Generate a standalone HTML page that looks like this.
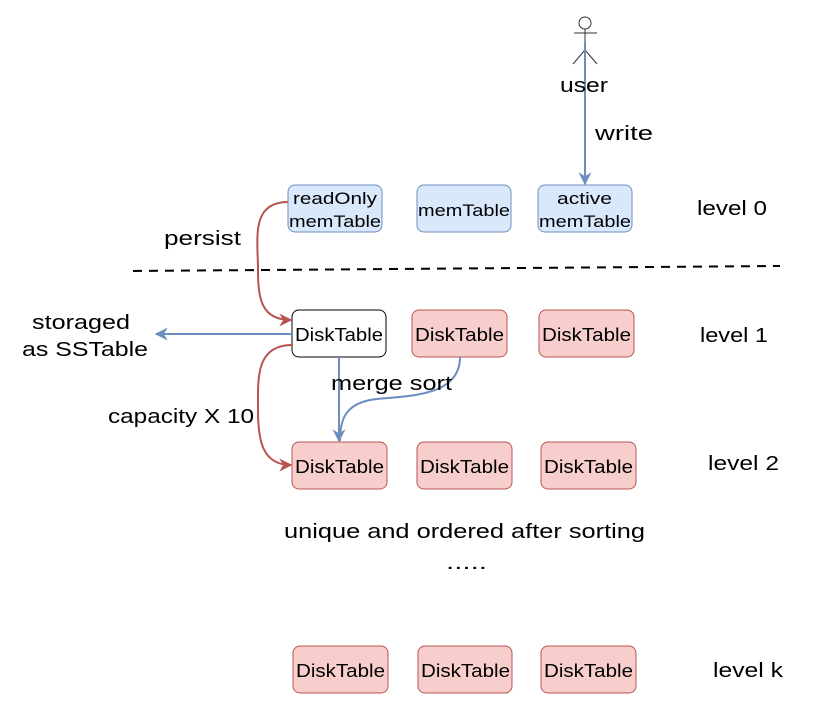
<!DOCTYPE html>
<html><head><meta charset="utf-8"><style>
html,body{margin:0;padding:0;background:#fff;}
svg{display:block;}
text{font-family:"Liberation Sans","DejaVu Sans",sans-serif;fill:#000;}
</style></head><body>
<svg width="830" height="728" viewBox="0 0 830 728" xmlns="http://www.w3.org/2000/svg">
<defs>
<marker id="ab" viewBox="0 0 10 10" refX="9" refY="5" markerWidth="13" markerHeight="13" orient="auto" markerUnits="userSpaceOnUse"><path d="M0,0 L10,5 L0,10 L3,5 z" fill="#6c8ebf"/></marker>
<marker id="ar" viewBox="0 0 10 10" refX="9" refY="5" markerWidth="13" markerHeight="13" orient="auto" markerUnits="userSpaceOnUse"><path d="M0,0 L10,5 L0,10 L3,5 z" fill="#b85450"/></marker>
</defs>
<!-- user -->
<circle cx="585" cy="23" r="6" fill="#fff" stroke="#333" stroke-width="1"/>
<line x1="574" y1="33" x2="597" y2="33" stroke="#333"/>
<line x1="585" y1="29" x2="585" y2="50" stroke="#333"/>
<line x1="585" y1="50" x2="573" y2="64" stroke="#333"/>
<line x1="585" y1="50" x2="597" y2="64" stroke="#333"/>
<line x1="585" y1="42" x2="585" y2="184" stroke="#6c8ebf" stroke-width="2" marker-end="url(#ab)"/>
<text x="560" y="92" font-size="20" textLength="48" lengthAdjust="spacingAndGlyphs">user</text>
<text x="595" y="140" font-size="20" textLength="58" lengthAdjust="spacingAndGlyphs">write</text>
<!-- level 0 -->
<g stroke="#6c8ebf" fill="#dae8fc">
<rect x="288" y="185" width="94" height="47" rx="7"/>
<rect x="417" y="185" width="94" height="47" rx="7"/>
<rect x="538" y="185" width="94" height="47" rx="7"/>
</g>
<g font-size="17" lengthAdjust="spacingAndGlyphs">
<text x="293" y="204" textLength="84" lengthAdjust="spacingAndGlyphs">readOnly</text>
<text x="289" y="227" textLength="92" lengthAdjust="spacingAndGlyphs">memTable</text>
<text x="418" y="216" textLength="92" lengthAdjust="spacingAndGlyphs">memTable</text>
<text x="557" y="204" textLength="55" lengthAdjust="spacingAndGlyphs">active</text>
<text x="539" y="227" textLength="92" lengthAdjust="spacingAndGlyphs">memTable</text>
</g>
<text x="697" y="215" font-size="20" textLength="70" lengthAdjust="spacingAndGlyphs">level 0</text>
<text x="164" y="245" font-size="20" textLength="77" lengthAdjust="spacingAndGlyphs">persist</text>
<line x1="133" y1="271" x2="780" y2="266" stroke="#000" stroke-width="2" stroke-dasharray="9,7"/>
<!-- boxes -->
<rect x="292" y="310" width="94" height="47" rx="7" fill="#fff" stroke="#000"/>
<g stroke="#b85450" fill="#f8cecc">
<rect x="412" y="310" width="95" height="47" rx="7"/>
<rect x="539" y="310" width="95" height="47" rx="7"/>
<rect x="292" y="442" width="95" height="47" rx="7"/>
<rect x="417" y="442" width="95" height="47" rx="7"/>
<rect x="541" y="442" width="95" height="47" rx="7"/>
<rect x="293" y="646" width="95" height="47" rx="7"/>
<rect x="418" y="646" width="94" height="47" rx="7"/>
<rect x="541" y="646" width="95" height="47" rx="7"/>
</g>
<g font-size="18">
<text x="295" y="341" textLength="88" lengthAdjust="spacingAndGlyphs">DiskTable</text>
<text x="415" y="341" textLength="89" lengthAdjust="spacingAndGlyphs">DiskTable</text>
<text x="542" y="341" textLength="89" lengthAdjust="spacingAndGlyphs">DiskTable</text>
<text x="295" y="473" textLength="89" lengthAdjust="spacingAndGlyphs">DiskTable</text>
<text x="420" y="473" textLength="89" lengthAdjust="spacingAndGlyphs">DiskTable</text>
<text x="544" y="473" textLength="89" lengthAdjust="spacingAndGlyphs">DiskTable</text>
<text x="296" y="677" textLength="89" lengthAdjust="spacingAndGlyphs">DiskTable</text>
<text x="421" y="677" textLength="89" lengthAdjust="spacingAndGlyphs">DiskTable</text>
<text x="544" y="677" textLength="89" lengthAdjust="spacingAndGlyphs">DiskTable</text>
</g>
<text x="700" y="342" font-size="20" textLength="68" lengthAdjust="spacingAndGlyphs">level 1</text>
<text x="708" y="470" font-size="20" textLength="71" lengthAdjust="spacingAndGlyphs">level 2</text>
<text x="713" y="677" font-size="20" textLength="70" lengthAdjust="spacingAndGlyphs">level k</text>
<!-- connectors -->
<path d="M288,202 C250,202 258,240 258,270 C258,300 262,320 291,320" fill="none" stroke="#b85450" stroke-width="2" marker-end="url(#ar)"/>
<path d="M292,345 C255,345 258,380 258,410 C258,440 262,465 291,465" fill="none" stroke="#b85450" stroke-width="2" marker-end="url(#ar)"/>
<line x1="292" y1="334" x2="156" y2="334" stroke="#6c8ebf" stroke-width="2" marker-end="url(#ab)"/>
<line x1="339" y1="357" x2="339" y2="441" stroke="#6c8ebf" stroke-width="2" marker-end="url(#ab)"/>
<path d="M460,357 C460,400 400,395 370,400 C345,405 340,420 340,441" fill="none" stroke="#6c8ebf" stroke-width="2"/>
<text x="331" y="390" font-size="20" textLength="121" lengthAdjust="spacingAndGlyphs">merge sort</text>
<text x="32" y="329" font-size="20" textLength="98" lengthAdjust="spacingAndGlyphs">storaged</text>
<text x="22" y="356" font-size="20" textLength="126" lengthAdjust="spacingAndGlyphs">as SSTable</text>
<text x="108" y="423" font-size="20" textLength="146" lengthAdjust="spacingAndGlyphs">capacity X 10</text>
<text x="284" y="538" font-size="20" textLength="361" lengthAdjust="spacingAndGlyphs">unique and ordered after sorting</text>
<text x="446" y="569" font-size="20" textLength="41" lengthAdjust="spacingAndGlyphs">.....</text>
</svg>
</body></html>
